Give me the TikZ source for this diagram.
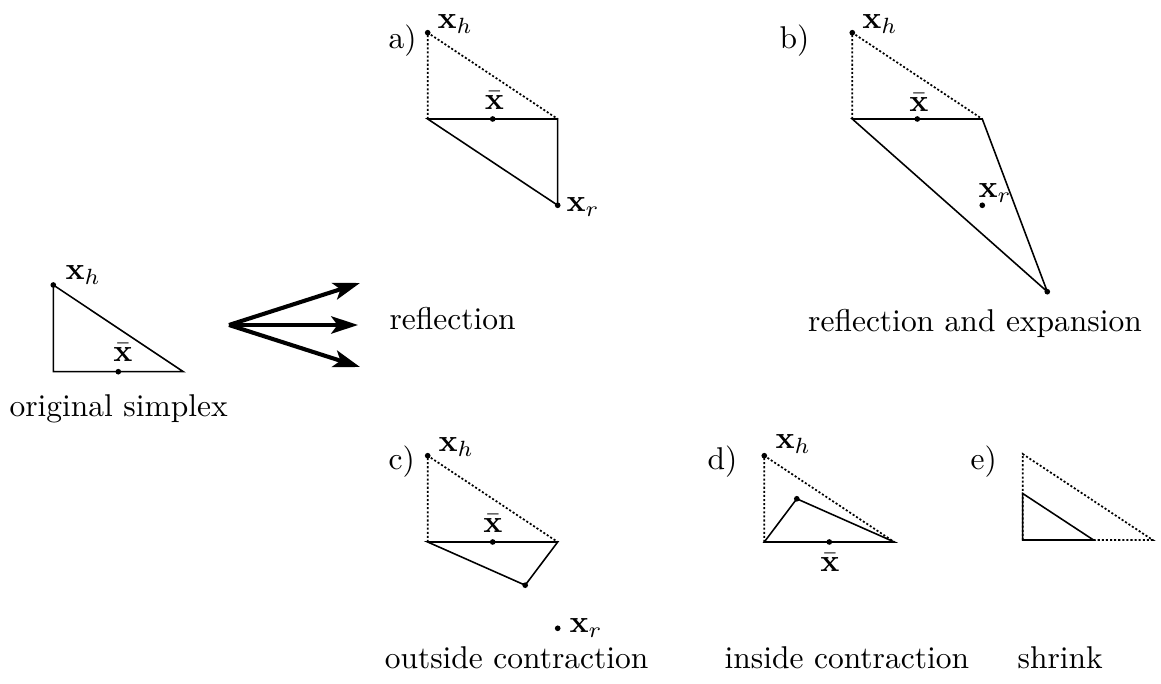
\documentclass[tikz,border=0pt]{standalone}
\usetikzlibrary{arrows.meta}
\begin{document}
\begin{tikzpicture}[x=0.3175pt,y=-0.3175pt,
  edge/.style={line width=0.5pt,line join=miter},
  dotline/.style={line width=0.55pt,dash pattern=on 0.65pt off 0.65pt},
  pt/.style={circle,fill=black,inner sep=0pt,minimum size=1.8pt},
  lbl/.style={inner sep=0pt,anchor=base west},
  rlbl/.style={inner sep=0pt,anchor=base east},
  clbl/.style={inner sep=0pt,anchor=base},
  bigarrow/.style={line width=1.3pt,-{Stealth[length=8.5pt,width=5.5pt,inset=2pt]}}]
\useasboundingbox (0,0) rectangle (1161,684);
% ---------- original simplex
\coordinate (o1) at (53.3,285);
\coordinate (o2) at (53.3,371.7);
\coordinate (o3) at (183.3,371.7);
\draw[edge] (o1) -- (o2) -- (o3) -- cycle;
\node[pt] (o1d) at (o1) {};
\node[pt] (ocd) at (118.3,371.7) {};
\node[lbl] (o1l) at (65,280) {$\mathbf{x}_h$};
\node[clbl] (ocl) at (123,361.7) {$\bar{\mathbf{x}}$};
\node[lbl] (ocap) at (9,416.7) {original simplex};
% ---------- arrows
\coordinate (as) at (229,325);
\coordinate (ae1) at (360,283);
\coordinate (ae2) at (358,325);
\coordinate (ae3) at (360,367);
\draw[bigarrow] (as) -- (ae1);
\draw[bigarrow] (as) -- (ae2);
\draw[bigarrow] (as) -- (ae3);
\node[lbl] (rcap) at (389,330) {reflection};
% ---------- a) reflection
\coordinate (ah) at (427.7,32.7);
\coordinate (al) at (427.7,119);
\coordinate (ar) at (557.7,119);
\coordinate (axr) at (557.7,205.3);
\draw[dotline] (al) -- (ah) -- (ar);
\draw[edge] (ar) -- (al) -- (axr) -- cycle;
\draw[dotline] (al) -- (ar);
\node[pt] (ahd) at (ah) {};
\node[pt] (acd) at (492.7,119) {};
\node[pt] (axrd) at (axr) {};
\node[lbl] (alab) at (388,49) {a)};
\node[lbl] (ahl) at (437,28.5) {$\mathbf{x}_h$};
\node[clbl] (acl) at (494.5,110) {$\bar{\mathbf{x}}$};
\node[lbl] (axrl) at (566,211.5) {$\mathbf{x}_r$};
% ---------- b) reflection and expansion
\coordinate (bh) at (852.3,32.7);
\coordinate (bl) at (852.3,119);
\coordinate (br) at (982.3,119);
\coordinate (bxe) at (1047.3,291.7);
\draw[dotline] (bl) -- (bh) -- (br);
\draw[edge] (br) -- (bl) -- (bxe) -- cycle;
\draw[dotline] (bl) -- (br);
\node[pt] (bhd) at (bh) {};
\node[pt] (bcd) at (917.3,119) {};
\node[pt] (bxrd) at (982.3,205.3) {};
\node[pt] (bxed) at (bxe) {};
\node[lbl] (blab) at (779,49) {b)};
\node[lbl] (bhl) at (861.7,28.3) {$\mathbf{x}_h$};
\node[clbl] (bcl) at (919,111.7) {$\bar{\mathbf{x}}$};
\node[lbl] (bxrl) at (978,198) {$\mathbf{x}_r$};
\node[clbl] (bcap) at (975,331.5) {reflection and expansion};
% ---------- c) outside contraction
\coordinate (ch) at (427.7,455.7);
\coordinate (cl) at (427.7,542);
\coordinate (cr) at (557.7,542);
\coordinate (cxc) at (525.2,585.2);
\draw[dotline] (cl) -- (ch) -- (cr);
\draw[edge] (cr) -- (cl) -- (cxc) -- cycle;
\draw[dotline] (cl) -- (cr);
\node[pt] (chd) at (ch) {};
\node[pt] (ccd) at (492.7,542) {};
\node[pt] (cxcd) at (cxc) {};
\node[pt] (cxrd) at (557.7,628.3) {};
\node[lbl] (clab) at (388,470) {c)};
\node[lbl] (chl) at (438,451.7) {$\mathbf{x}_h$};
\node[clbl] (ccl) at (493,533) {$\bar{\mathbf{x}}$};
\node[lbl] (cxrl) at (569,633) {$\mathbf{x}_r$};
\node[rlbl] (ccap) at (649,668.3) {outside contraction};
% ---------- d) inside contraction
\coordinate (dh) at (764.3,455.7);
\coordinate (dl) at (764.3,542);
\coordinate (dr) at (894.3,542);
\coordinate (dxc) at (796.8,498.8);
\draw[dotline] (dl) -- (dh) -- (dr);
\draw[edge] (dr) -- (dl) -- (dxc) -- cycle;
\draw[dotline] (dl) -- (dr);
\node[pt] (dhd) at (dh) {};
\node[pt] (dcd) at (829.3,542) {};
\node[pt] (dxcd) at (dxc) {};
\node[lbl] (dlab) at (707,470) {d)};
\node[lbl] (dhl) at (775,449) {$\mathbf{x}_h$};
\node[clbl] (dcl) at (830,571.7) {$\bar{\mathbf{x}}$};
\node[lbl] (dcap) at (724,668.3) {inside contraction};
% ---------- e) shrink
\coordinate (eh) at (1022.7,454);
\coordinate (el) at (1022.7,540);
\coordinate (er) at (1152.7,540);
\coordinate (et) at (1022.7,493.5);
\coordinate (ei) at (1093.5,540);
\draw[dotline] (el) -- (eh) -- (er) -- cycle;
\draw[edge] (el) -- (et) -- (ei) -- cycle;
\node[lbl] (elab) at (970,470) {e)};
\node[lbl] (ecap) at (1017,668.3) {shrink};
\end{tikzpicture}
\end{document}
